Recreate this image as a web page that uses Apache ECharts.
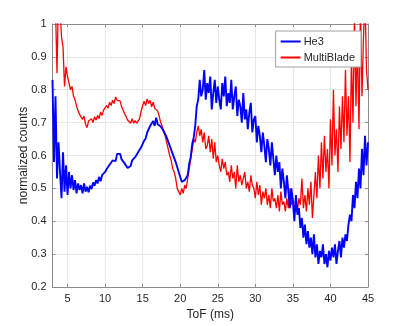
<!DOCTYPE html>
<html>
<head>
<meta charset="utf-8">
<script src="https://cdn.jsdelivr.net/npm/echarts@6/dist/echarts.min.js"></script>
<style>
  html, body { margin: 0; padding: 0; background: #fff; }
  #chart { width: 407px; height: 326px; }
</style>
</head>
<body>
<div id="chart"></div>
<script>
// ToF sampled every 0.2 ms from 3 ms to 45 ms
const tofStart = 3
const tofStep = 0.2
const xTicks = [5, 10, 15, 20, 25, 30, 35, 40, 45]

// one row per ms: x.0, x.2, x.4, x.6, x.8
const he3 = [
  0.83, 0.58, 0.78, 0.53, 0.64,
  0.55, 0.47, 0.61, 0.49, 0.57,
  0.48, 0.55, 0.50, 0.54, 0.495,
  0.525, 0.485, 0.515, 0.495, 0.51,
  0.485, 0.515, 0.49, 0.505, 0.488,
  0.508, 0.498, 0.518, 0.508, 0.525,
  0.515, 0.535, 0.522, 0.54, 0.535,
  0.55, 0.558, 0.552, 0.572, 0.57,
  0.585, 0.588, 0.583, 0.605, 0.6,
  0.605, 0.588, 0.59, 0.576, 0.578,
  0.562, 0.565, 0.568, 0.585, 0.58,
  0.595, 0.598, 0.61, 0.612, 0.625,
  0.628, 0.645, 0.652, 0.67, 0.675,
  0.69, 0.685, 0.705, 0.69, 0.715,
  0.695, 0.695, 0.688, 0.69, 0.675,
  0.67, 0.655, 0.65, 0.63, 0.628,
  0.605, 0.603, 0.58, 0.574, 0.55,
  0.545, 0.52, 0.525, 0.525, 0.53,
  0.54, 0.575, 0.595, 0.635, 0.655,
  0.69, 0.75, 0.77, 0.83, 0.78,
  0.80, 0.86, 0.77, 0.82, 0.79,
  0.84, 0.74, 0.79, 0.83, 0.76,
  0.81, 0.77, 0.74, 0.82, 0.78,
  0.84, 0.75, 0.79, 0.76, 0.83,
  0.74, 0.78, 0.81, 0.72, 0.77,
  0.75, 0.70, 0.79, 0.71, 0.74,
  0.68, 0.73, 0.76, 0.67, 0.71,
  0.72, 0.64, 0.69, 0.66, 0.61,
  0.67, 0.63, 0.58, 0.65, 0.62,
  0.57, 0.64, 0.59, 0.54, 0.60,
  0.55, 0.58, 0.50, 0.56, 0.52,
  0.47, 0.54, 0.49, 0.44, 0.50,
  0.46, 0.40, 0.48, 0.42, 0.44,
  0.38, 0.41, 0.35, 0.39, 0.33,
  0.37, 0.32, 0.35, 0.30, 0.36,
  0.29, 0.33, 0.27, 0.31, 0.29,
  0.33, 0.27, 0.30, 0.26, 0.31,
  0.28, 0.32, 0.29, 0.33, 0.27,
  0.31, 0.34, 0.29, 0.35, 0.32,
  0.36, 0.34, 0.39, 0.42, 0.40,
  0.48, 0.44, 0.52, 0.47, 0.56,
  0.50, 0.62, 0.54, 0.66, 0.57,
  0.64
]

const multiBlade = [
  1.08, 1.12, 1.05, 0.85, 1.10,
  1.05, 0.96, 0.93, 0.81, 0.87,
  0.84, 0.82, 0.80, 0.81, 0.78,
  0.77, 0.75, 0.745, 0.725, 0.72,
  0.71, 0.72, 0.695, 0.685, 0.705,
  0.70, 0.712, 0.70, 0.718, 0.708,
  0.722, 0.712, 0.732, 0.722, 0.738,
  0.742, 0.752, 0.744, 0.762, 0.752,
  0.768, 0.758, 0.778, 0.768, 0.762,
  0.766, 0.748, 0.746, 0.728, 0.722,
  0.708, 0.706, 0.698, 0.712, 0.698,
  0.706, 0.698, 0.696, 0.712, 0.735,
  0.752, 0.765, 0.752, 0.772, 0.758,
  0.768, 0.748, 0.762, 0.744, 0.742,
  0.735, 0.72, 0.70, 0.69, 0.67,
  0.66, 0.64, 0.62, 0.60, 0.585,
  0.56, 0.55, 0.53, 0.50, 0.495,
  0.48, 0.50, 0.485, 0.51, 0.50,
  0.53, 0.56, 0.59, 0.62, 0.65,
  0.64, 0.67, 0.69, 0.66, 0.68,
  0.64, 0.67, 0.62, 0.63, 0.66,
  0.61, 0.65, 0.59, 0.64, 0.58,
  0.60, 0.57, 0.55, 0.59, 0.56,
  0.58, 0.54, 0.55, 0.52, 0.57,
  0.53, 0.55, 0.50, 0.57, 0.52,
  0.54, 0.51, 0.53, 0.55, 0.50,
  0.52, 0.49, 0.54, 0.51, 0.50,
  0.47, 0.52, 0.48, 0.51, 0.45,
  0.49, 0.47, 0.50, 0.45, 0.48,
  0.44, 0.50, 0.46, 0.47, 0.44,
  0.48, 0.43, 0.49, 0.45, 0.46,
  0.43, 0.47, 0.44, 0.50, 0.45,
  0.47, 0.42, 0.48, 0.43, 0.47,
  0.45, 0.53, 0.44, 0.48, 0.43,
  0.50, 0.45, 0.52, 0.41, 0.48,
  0.55, 0.47, 0.60, 0.50, 0.64,
  0.53, 0.66, 0.55, 0.62, 0.50,
  0.71, 0.57, 0.80, 0.60, 0.68,
  0.55, 0.75, 0.62, 0.78, 0.64,
  0.86, 0.66, 0.78, 0.58, 0.90,
  0.70, 1.02, 0.75, 0.95, 0.68,
  1.05, 0.78, 0.96, 1.08, 0.86,
  0.80
]

const tof = he3.map((_, i) => +(tofStart + i * tofStep).toFixed(1))
const pairs = (ys) => ys.map((y, i) => [tof[i], y])

const font = 'Liberation Sans, Arial, Helvetica, sans-serif'
const axisGray = '#8c8c8c'
const textGray = '#262626'

const chart = echarts.init(document.getElementById('chart'))

const option = {
  animation: false,
  textStyle: { fontFamily: font },
  grid: { left: 52.5, right: 39, top: 24, bottom: 36 },
  legend: {
    data: ['He3', 'MultiBlade'],
    orient: 'vertical',
    right: 46,
    top: 31,
    padding: [5, 6, 4, 5],
    itemGap: 5,
    itemWidth: 20,
    itemHeight: 2,
    icon: 'rect',
    backgroundColor: '#fff',
    borderColor: '#a0a0a0',
    borderWidth: 1,
    textStyle: { fontSize: 11, color: textGray, padding: [0, 0, 0, -2] }
  },
  xAxis: [
    {
      type: 'value',
      min: 3,
      max: 45,
      name: 'ToF (ms)',
      nameLocation: 'middle',
      nameGap: 22,
      nameTextStyle: { fontSize: 12, color: textGray },
      axisLine: { lineStyle: { color: axisGray } },
      axisTick: { inside: true, length: 3, customValues: xTicks, lineStyle: { color: axisGray } },
      axisLabel: { fontSize: 11, color: textGray, margin: 6, customValues: xTicks },
      splitLine: { lineStyle: { color: '#e8e8e8' } }
    },
    {
      type: 'value',
      position: 'top',
      min: 3,
      max: 45,
      axisLine: { show: true, lineStyle: { color: axisGray } },
      axisTick: { inside: true, length: 3, customValues: xTicks, lineStyle: { color: axisGray } },
      axisLabel: { show: false },
      splitLine: { show: false }
    }
  ],
  yAxis: [
    {
      type: 'value',
      min: 0.2,
      max: 1,
      interval: 0.1,
      name: 'normalized counts',
      nameLocation: 'middle',
      nameGap: 23,
      nameMoveOverlap: false,
      nameTextStyle: { fontSize: 12, color: textGray },
      axisLine: { show: true, lineStyle: { color: axisGray } },
      axisTick: { show: true, inside: true, length: 3, lineStyle: { color: axisGray } },
      axisLabel: {
        fontSize: 11,
        color: textGray,
        margin: 6,
        formatter: (v) => String(+v.toFixed(1))
      },
      splitLine: { lineStyle: { color: '#e8e8e8' } }
    },
    {
      type: 'value',
      position: 'right',
      min: 0.2,
      max: 1,
      interval: 0.1,
      axisLine: { show: true, lineStyle: { color: axisGray } },
      axisTick: { show: true, inside: true, length: 3, lineStyle: { color: axisGray } },
      axisLabel: { show: false },
      splitLine: { show: false }
    }
  ],
  series: [
    {
      name: 'He3',
      type: 'line',
      data: pairs(he3),
      showSymbol: false,
      clip: true,
      color: '#0000ff',
      lineStyle: { color: '#0000ff', width: 1.9 },
      z: 3
    },
    {
      name: 'MultiBlade',
      type: 'line',
      data: pairs(multiBlade),
      showSymbol: false,
      clip: true,
      color: '#ff0000',
      lineStyle: { color: '#ff0000', width: 1.3 },
      z: 2
    }
  ]
}

chart.setOption(option)
</script>
</body>
</html>
